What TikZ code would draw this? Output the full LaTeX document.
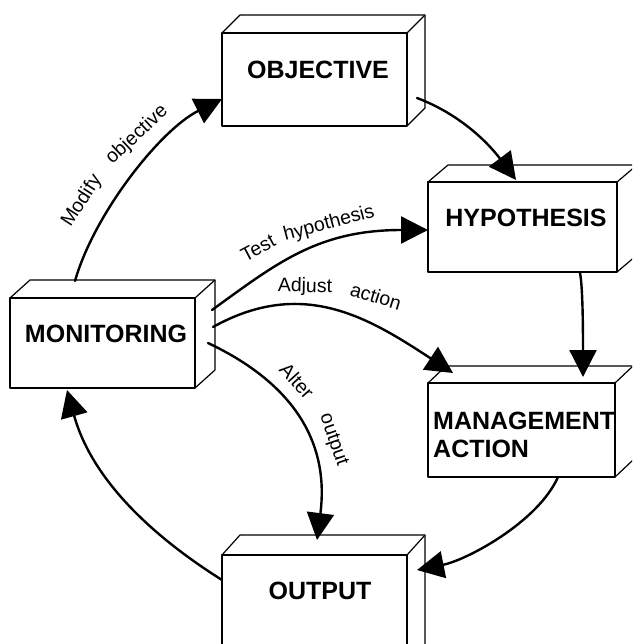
\documentclass[tikz,border=0pt]{standalone}
\usepackage{fontspec}
\setmainfont{Liberation Sans}
\usetikzlibrary{arrows.meta,calc}
\newcommand{\boxfaces}[3]{%
  \draw[boxline] (#1.north west) -- ++(#2,#3) -- ($(#1.north east)+(#2,#3)$) -- ($(#1.south east)+(#2,#3)$) -- (#1.south east);
  \draw[boxline] (#1.north east) -- ++(#2,#3);
}
\begin{document}
\begin{tikzpicture}[x=1pt,y=-1pt,
  boxline/.style={line width=1.2pt, line join=round},
  cube/.style={draw, boxline, rectangle, inner sep=0pt, outer sep=0pt, fill=white},
  boxtext/.style={font=\bfseries\fontsize{25}{28}\selectfont, inner sep=0pt},
  flow/.style={line width=2.4pt, line cap=round, -{Triangle[length=27pt,width=27pt]}},
  lab/.style={font=\fontsize{19.5}{22}\selectfont, inner sep=0pt}]
\useasboundingbox (0,0) rectangle (632,644);
\clip (0,0) rectangle (632,644);
% boxes (front faces)
\node[cube, minimum width=185pt, minimum height=93pt] (obj) at (314.5,79.5) {};
\node[cube, minimum width=189pt, minimum height=90pt] (hyp) at (522.5,227) {};
\node[cube, minimum width=187pt, minimum height=94pt] (man) at (521.5,430) {};
\node[cube, minimum width=185pt, minimum height=110pt] (out) at (314.5,610) {};
\node[cube, minimum width=185pt, minimum height=90pt] (mon) at (102.5,343) {};
\boxfaces{obj}{18}{-18}
\boxfaces{hyp}{20}{-17}
\boxfaces{man}{18}{-17}
\boxfaces{out}{18}{-20}
\boxfaces{mon}{20}{-18}
% box texts
\node[boxtext] (objt) at ($(obj)+(3.5,-9.5)$) {OBJECTIVE};
\node[boxtext] (hypt) at ($(hyp)+(3.5,-9)$) {HYPOTHESIS};
\node[boxtext] (mont) at ($(mon)+(3.5,-9)$) {MONITORING};
\node[boxtext, anchor=west, align=left] (mant) at ($(man.west)+(5,4.5)$) {MANAGEMENT\\ACTION};
\node[boxtext] (outt) at ($(out.north)+(5.5,36)$) {OUTPUT};
% connector end points
\coordinate (a1s) at ($(obj.east)+(10,18.5)$);
\coordinate (a1e) at ($(hyp.north)+(-6.5,-2)$);
\coordinate (a2s) at ($(hyp.south)+(57.5,1)$);
\coordinate (a2e) at ($(man.north)+(61.5,-6)$);
\coordinate (a3s) at ($(man.south)+(36.5,0)$);
\coordinate (a3e) at ($(out.east)+(10,-40)$);
\coordinate (a4s) at ($(out.west)+(0,-30)$);
\coordinate (a4e) at ($(mon.south)+(-35.5,2)$);
\coordinate (a5s) at ($(mon.north)+(-27.5,-17)$);
\coordinate (a5e) at ($(obj.west)+(0,19.5)$);
\coordinate (a6s) at ($(mon.east)+(17,-33)$);
\coordinate (a6e) at ($(hyp.west)+(0,3)$);
\coordinate (a7s) at ($(mon.east)+(18,-16)$);
\coordinate (a7e) at ($(man.north)+(-68.5,-10)$);
\coordinate (a8s) at ($(mon.east)+(13,0)$);
\coordinate (a8e) at ($(out.north)+(2.5,-15)$);
% connectors
\draw[flow] (a1s) .. controls +(40,15) and +(-30,-40) .. (a1e);
\draw[flow] (a2s) .. controls +(3,15) and +(0,-40) .. (a2e);
\draw[flow] (a3s) .. controls +(-20,45) and +(50,-10) .. (a3e);
\draw[flow] (a4s) .. controls +(-95,-60) and +(20,72) .. (a4e);
\draw[flow] (a5s) .. controls +(19,-67) and +(-62,31) .. (a5e);
\draw[flow] (a6s) .. controls +(65,-47) and +(-110,0) .. (a6e);
\draw[flow] (a7s) .. controls +(90,-50) and +(-84,-55) .. (a7e);
\draw[flow] (a8s) .. controls +(72,34) and +(14,-109) .. (a8e);
% labels
\node[lab, rotate=57] (l1a) at (82,201) {Modify};
\node[lab, rotate=43] (l1b) at (137,135) {objective};
\node[lab, rotate=28] (l2a) at (258,248) {Test};
\node[lab, rotate=15] (l2b) at (329,224) {hypothesis};
\node[lab, rotate=-1] (l3a) at (305,287) {Adjust};
\node[lab, rotate=-17] (l3b) at (376,296) {action};
\node[lab, rotate=-48] (l4a) at (297,381) {Alter};
\node[lab, rotate=-71] (l4b) at (333,440) {output};
\end{tikzpicture}
\end{document}
